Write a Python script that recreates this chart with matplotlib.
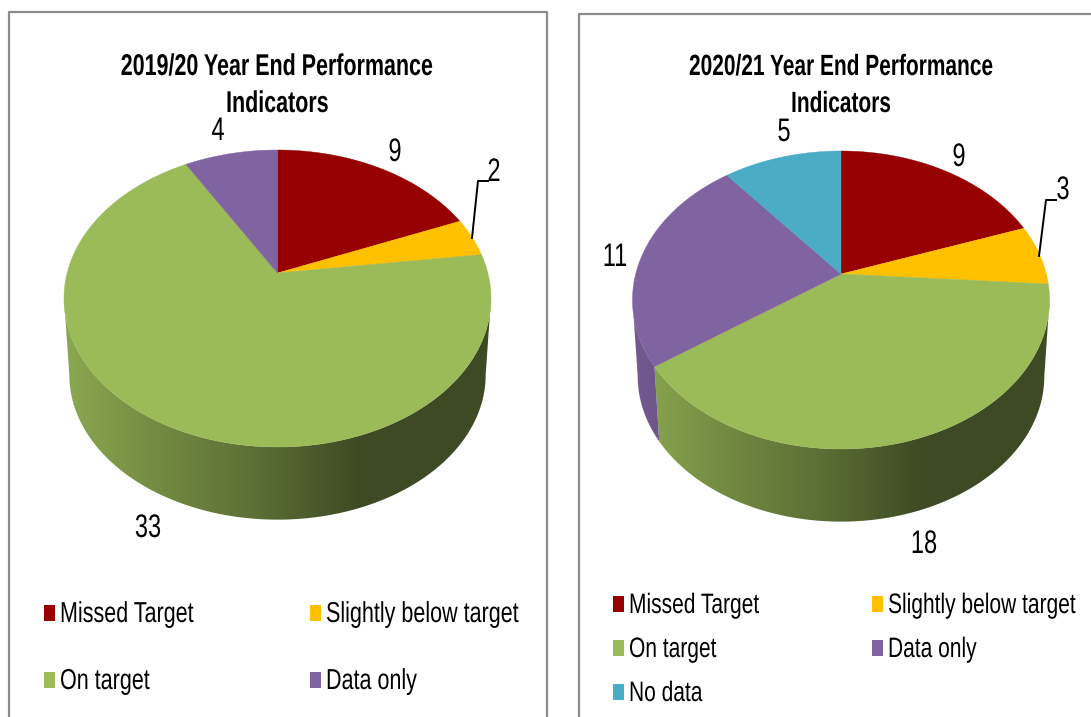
import numpy as np
import matplotlib
matplotlib.use("Agg")
import matplotlib.pyplot as plt
from matplotlib.patches import Polygon, Rectangle
from matplotlib.colors import to_rgb
from matplotlib.patheffects import AbstractPathEffect
from matplotlib.transforms import Affine2D

W, H = 1091, 717
FONT = ['Liberation Sans', 'DejaVu Sans']

categories_a = ['Missed Target', 'Slightly below target', 'On target', 'Data only']
values_a = [9, 2, 33, 4]
title_a = ['2019/20 Year End Performance', 'Indicators']

categories_b = ['Missed Target', 'Slightly below target', 'On target', 'Data only', 'No data']
values_b = [9, 3, 18, 11, 5]
title_b = ['2020/21 Year End Performance', 'Indicators']

colors = {'Missed Target': '#960000', 'Slightly below target': '#ffc000',
          'On target': '#9bbb59', 'Data only': '#8064a2', 'No data': '#4bacc6'}

fig = plt.figure(figsize=(W / 100, H / 100), dpi=100)
ax = fig.add_axes([0, 0, 1, 1])
ax.set_axis_off()

SHADE_U = [0.0, 0.22, 0.44, 0.69, 1.0]
SHADE_F = [0.90, 0.74, 0.60, 0.40, 0.40]


class Stretch(AbstractPathEffect):
    """Stretch the glyphs of a text vertically about its baseline."""

    def __init__(self, sy, sx=1.0, centre=False):
        super().__init__()
        self.sy, self.sx, self.centre = sy, sx, centre

    def draw_path(self, renderer, gc, tpath, affine, rgbFace=None):
        mid = tpath.get_extents().x0 * 0.5 + tpath.get_extents().x1 * 0.5 if self.centre else 0.0
        t = Affine2D().translate(-mid, 0).scale(self.sx, self.sy).translate(mid, 0)
        renderer.draw_path(gc, tpath, t + affine, rgbFace)


def pie3d(cats, vals, cx, cy, up, down, rx, depth=77, squeeze=0.975):
    c = (down - up) / (down + up)
    A = up * (1 + c)
    K = rx * np.sqrt(1 - c * c)
    a = np.arcsin(c)

    def project(theta):
        xx, yy = np.cos(theta), np.sin(theta)
        d = 1 + c * yy
        return K * xx / d, -A * yy / d

    edges = np.cumsum([0] + list(vals)) / sum(vals) * 2 * np.pi
    left, width = cx - rx, 2 * rx
    shade = np.interp(np.linspace(0, 1, 600), SHADE_U, SHADE_F)
    for i, cat in enumerate(cats):
        t = np.pi / 2 - np.linspace(edges[i], edges[i + 1], 3000)
        m = np.mod(t, 2 * np.pi)
        t = t[(m >= np.pi + a) & (m <= 2 * np.pi - a)]
        if t.size < 2:
            continue
        px, py = project(t)
        rgb = np.array(to_rgb(colors[cat]))
        bx = cx + squeeze * px
        by = cy + depth + squeeze * py
        wall = np.column_stack([np.r_[cx + px, bx[::-1]], np.r_[cy + py, by[::-1]]])
        patch = Polygon(wall, closed=True, transform=ax.transData, fc='none', ec='none')
        ax.add_patch(patch)
        img = shade[None, :, None] * rgb[None, None, :]
        im = ax.imshow(img, extent=[left, left + width, H, 0], aspect='auto',
                       zorder=2, interpolation='bilinear')
        im.set_clip_path(patch)
    for i, cat in enumerate(cats):
        t = np.pi / 2 - np.linspace(edges[i], edges[i + 1], 400)
        px, py = project(t)
        top = np.column_stack([np.r_[cx, cx + px], np.r_[cy, cy + py]])
        ax.add_patch(Polygon(top, closed=True, fc=colors[cat], ec=colors[cat], lw=0.3, zorder=3))


def text(x, y, s, size, sy, weight='normal', ha='center'):
    tx = ax.text(x, y, s, fontsize=size, fontweight=weight, ha=ha, va='baseline',
                 family=FONT, color='#000000', zorder=5)
    tx.set_path_effects([Stretch(sy, centre=(ha == 'center'))])


def legend(cats, slots, size):
    for cat, (sx, base) in zip(cats, slots):
        ax.add_patch(Rectangle((sx, base - 17), 11, 16, fc=colors[cat], ec='none', zorder=4))
        text(sx + 16, base, cat, size, 1.34, ha='left')


for x0, y0, x1 in [(9, 12, 547), (579, 14, 1100)]:
    ax.plot([x0, x0, x1, x1], [H + 5, y0, y0, H + 5], color='#8c8c8c', lw=1.6, zorder=1)

pie3d(categories_a, values_a, 277.5, 273, 123, 174, 213.5)
pie3d(categories_b, values_b, 841, 274, 123, 175, 208.5)

for cx, title, fs in [(277.5, title_a, 15.45), (841, title_b, 15.05)]:
    text(cx, 75, title[0], fs, 1.4, 'bold')
    text(cx, 112, title[1], fs, 1.4, 'bold')

for (x, y), v in zip([(395, 161), (494, 181), (148, 537), (218, 140)], values_a):
    text(x, y, str(v), 17, 1.38)
for (x, y), v in zip([(959, 166), (1063, 199), (924, 553), (615, 266), (784, 141)], values_b):
    text(x, y, str(v), 17, 1.38)

ax.plot([472, 478, 488], [238, 181, 181], color='k', lw=1.4, zorder=4)
ax.plot([1039, 1046, 1056], [256, 200, 200], color='k', lw=1.4, zorder=4)

legend(categories_a, [(44, 622), (310, 622), (44, 689), (310, 689)], 15.5)
legend(categories_b, [(613, 613), (872, 613), (613, 657), (872, 657), (613, 701)], 15.1)

ax.set_xlim(0, W)
ax.set_ylim(H, 0)
fig.savefig('out.png', dpi=100, facecolor='white')
